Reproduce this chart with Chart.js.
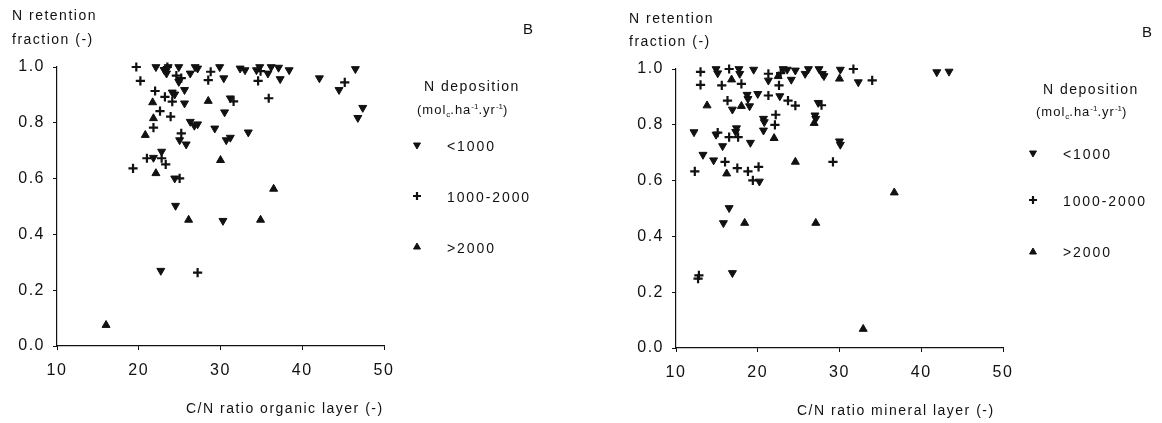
<!DOCTYPE html>
<html>
<head>
<meta charset="utf-8">
<script src="https://cdn.jsdelivr.net/npm/chart.js@4.4.1/dist/chart.umd.min.js"></script>
<style>
  html, body { margin: 0; padding: 0; background: #fff; }
  #wrap { position: relative; width: 1162px; height: 423px; overflow: hidden;
          font-family: "Liberation Sans", Arial, sans-serif; color: #111; letter-spacing: 1.5px; }
  canvas { position: absolute; top: 0; }
  .t { position: absolute; white-space: nowrap; font-size: 14px; line-height: 1; }
  .lg { letter-spacing: 1.9px; }
  .small { font-size: 13px; letter-spacing: 1px; }
  .small sub, .small sup { font-size: 8px; letter-spacing: 0; }
  .small sub { vertical-align: -3px; }
  .small sup { vertical-align: 5px; }
</style>
</head>
<body>
<div id="wrap">
  <canvas id="organicChart" width="581" height="423" style="left:0"></canvas>
  <canvas id="mineralChart" width="581" height="423" style="left:581px"></canvas>

  <!-- left panel text -->
  <div class="t" style="left:12px; top:8px">N retention</div>
  <div class="t" style="left:12px; top:32px">fraction (-)</div>
  <div class="t" style="left:523px; top:21px; font-size:15px">B</div>
  <div class="t" style="left:424px; top:79px">N deposition</div>
  <div class="t small" style="left:417px; top:103px">(mol<sub>c</sub>.ha<sup>-1</sup>.yr<sup>-1</sup>)</div>
  <div class="t lg" style="left:447px; top:139px" id="lab0a"></div>
  <div class="t lg" style="left:447px; top:190px" id="lab1a"></div>
  <div class="t lg" style="left:447px; top:241px" id="lab2a"></div>
  <div class="t" style="left:186px; top:401px">C/N ratio organic layer (-)</div>

  <!-- right panel text -->
  <div class="t" style="left:629px; top:11px">N retention</div>
  <div class="t" style="left:629px; top:34px">fraction (-)</div>
  <div class="t" style="left:1142px; top:24px; font-size:15px">B</div>
  <div class="t" style="left:1043px; top:82px">N deposition</div>
  <div class="t small" style="left:1036px; top:105px">(mol<sub>c</sub>.ha<sup>-1</sup>.yr<sup>-1</sup>)</div>
  <div class="t lg" style="left:1063px; top:147px" id="lab0b"></div>
  <div class="t lg" style="left:1063px; top:194px" id="lab1b"></div>
  <div class="t lg" style="left:1063px; top:245px" id="lab2b"></div>
  <div class="t" style="left:797px; top:403px">C/N ratio mineral layer (-)</div>
</div>

<script>
// ============================
// Data
// ============================
const depositionClasses = ["<1000", "1000-2000", ">2000"];
const xTicks = [10, 20, 30, 40, 50];
const yTicks = [0, 0.2, 0.4, 0.6, 0.8, 1.0];

// C/N ratio organic layer vs N retention fraction
const orgLow = [
    [22.1, 1.0], [23.1, 0.99], [23.6, 1.0], [23.4, 0.977], [24.9, 1.0], [24.9, 0.947],
    [26.3, 0.977], [26.9, 1.0], [27.2, 0.995], [29.9, 1.0], [30.4, 0.96], [32.4, 0.995],
    [33.0, 0.989], [34.4, 0.989], [24.1, 0.909], [24.4, 0.902], [25.6, 0.918], [25.6, 0.87],
    [31.2, 0.888], [30.5, 0.838], [26.3, 0.804], [26.8, 0.79], [27.2, 0.795], [29.3, 0.78],
    [33.4, 0.766], [30.7, 0.738], [31.2, 0.747], [25.0, 0.738], [25.8, 0.723], [21.8, 0.675],
    [22.8, 0.697], [24.4, 0.601], [24.5, 0.503], [34.8, 1.0], [36.2, 1.0], [37.1, 0.998],
    [35.8, 0.977], [37.3, 0.957], [38.4, 0.989], [42.1, 0.96], [46.5, 0.993], [44.5, 0.918],
    [47.4, 0.854], [46.8, 0.818], [30.3, 0.449], [22.7, 0.27]
];
const orgMid = [
    [19.7, 1.0], [23.5, 1.0], [24.6, 0.969], [25.2, 0.96], [28.8, 0.983], [28.5, 0.953],
    [34.6, 0.95], [34.9, 0.985], [20.2, 0.95], [22.0, 0.914], [23.2, 0.893], [24.1, 0.876],
    [31.6, 0.877], [35.9, 0.888], [22.6, 0.842], [23.9, 0.822], [21.8, 0.783], [25.2, 0.762],
    [21.0, 0.673], [22.8, 0.673], [23.3, 0.651], [19.3, 0.637], [25.0, 0.601], [45.2, 0.945],
    [27.2, 0.263]
];
const orgHigh = [
    [21.7, 0.873], [28.5, 0.878], [21.8, 0.816], [20.8, 0.756], [30.0, 0.666], [22.1, 0.619],
    [36.5, 0.563], [26.1, 0.452], [34.9, 0.452], [16.0, 0.075]
];

// C/N ratio mineral layer vs N retention fraction
const minLow = [
    [14.9, 1.0], [15.1, 0.985], [17.7, 1.0], [17.8, 0.983], [19.5, 0.998], [21.3, 0.959],
    [23.1, 1.0], [23.6, 0.998], [24.6, 0.995], [24.1, 0.962], [25.8, 0.983], [26.2, 1.0],
    [27.5, 1.0], [27.9, 0.983], [28.1, 0.975], [30.1, 0.998], [18.7, 0.908], [18.8, 0.893],
    [20.0, 0.911], [22.7, 0.903], [16.9, 0.855], [19.0, 0.867], [27.4, 0.879], [20.7, 0.822],
    [20.8, 0.81], [20.7, 0.78], [27.0, 0.834], [27.1, 0.822], [12.2, 0.774], [14.9, 0.765],
    [17.4, 0.788], [17.3, 0.775], [15.7, 0.724], [19.1, 0.736], [30.0, 0.741], [30.1, 0.729],
    [13.3, 0.693], [14.6, 0.673], [20.2, 0.597], [16.5, 0.502], [32.3, 0.953], [41.9, 0.989],
    [43.4, 0.991], [15.8, 0.448], [16.9, 0.269]
];
const minMid = [
    [13.0, 0.99], [13.0, 0.943], [16.5, 1.0], [18.0, 0.947], [15.6, 0.941], [21.3, 0.983],
    [22.8, 0.985], [22.6, 0.941], [21.3, 0.905], [23.7, 0.887], [24.6, 0.869], [16.3, 0.887],
    [22.2, 0.836], [22.1, 0.80], [15.1, 0.772], [16.5, 0.756], [17.6, 0.756], [16.0, 0.667],
    [12.3, 0.633], [17.5, 0.645], [18.8, 0.633], [20.1, 0.649], [19.4, 0.601], [29.2, 0.667],
    [31.7, 1.0], [34.0, 0.959], [27.8, 0.87], [12.7, 0.249], [12.8, 0.26]
];
const minHigh = [
    [16.8, 0.962], [22.5, 0.974], [30.0, 0.965], [13.8, 0.869], [18.0, 0.867], [22.0, 0.752],
    [26.9, 0.806], [16.2, 0.625], [24.6, 0.667], [36.7, 0.557], [18.4, 0.448], [27.1, 0.448],
    [32.9, 0.068]
];

// ============================
// Styling helpers
// ============================
const INK = "#111";
const FONT = "'Liberation Sans', Arial, sans-serif";

["a", "b"].forEach(s => {
    depositionClasses.forEach((c, i) => {
        document.getElementById("lab" + i + s).textContent = c;
    });
});

function toPoints(arr) {
    return arr.map(([x, y]) => ({ x, y }));
}

// draws the little legend markers next to the HTML labels
const legendMarks = {
    id: "legendMarks",
    beforeDraw(chart) {
        chart.ctx.letterSpacing = "1.5px";
    },
    afterDraw(chart, args, opts) {
        const ctx = chart.ctx;
        chart.data.datasets.forEach((ds, i) => {
            ctx.save();
            ctx.fillStyle = ds.backgroundColor;
            ctx.strokeStyle = ds.borderColor;
            ctx.lineWidth = ds.borderWidth;
            Chart.helpers.drawPoint(ctx, {
                pointStyle: ds.pointStyle,
                rotation: ds.rotation,
                radius: 4,
                borderWidth: ds.borderWidth
            }, opts.x, opts.ys[i]);
            ctx.restore();
        });
    }
};

function makePanel(canvasId, low, mid, high, layout) {
    const ctx = document.getElementById(canvasId).getContext("2d");
    const markStyles = [
        { pointStyle: "triangle", rotation: 180, borderWidth: 1 },
        { pointStyle: "cross", rotation: 0, borderWidth: 2.2 },
        { pointStyle: "triangle", rotation: 0, borderWidth: 1 }
    ];
    const datasets = [low, mid, high].map((arr, i) => ({
        label: depositionClasses[i],
        data: toPoints(arr),
        pointStyle: markStyles[i].pointStyle,
        rotation: markStyles[i].rotation,
        pointRadius: 4.6,
        borderWidth: markStyles[i].borderWidth,
        backgroundColor: INK,
        borderColor: INK,
        showLine: false,
        clip: false
    }));

    return new Chart(ctx, {
        type: "scatter",
        data: { datasets },
        options: {
            responsive: false,
            animation: false,
            events: [],
            layout: {
                padding: { left: 0, right: layout.padRight, top: layout.padTop, bottom: layout.padBottom }
            },
            plugins: {
                legend: { display: false },
                tooltip: { enabled: false },
                legendMarks: { x: layout.legendX, ys: layout.legendYs }
            },
            scales: {
                x: {
                    type: "linear",
                    min: 10,
                    max: 50,
                    afterBuildTicks: axis => { axis.ticks = xTicks.map(v => ({ value: v })); },
                    afterFit: axis => { axis.height = 40; },
                    grid: { drawOnChartArea: false, drawTicks: true, tickLength: 4, color: INK },
                    border: { display: true, color: INK, width: 1.2 },
                    ticks: { color: INK, padding: 11, maxRotation: 0, font: { family: FONT, size: 16 } }
                },
                y: {
                    type: "linear",
                    min: 0,
                    max: 1,
                    afterBuildTicks: axis => { axis.ticks = yTicks.map(v => ({ value: v })); },
                    afterFit: axis => { axis.width = layout.yWidth; },
                    grid: { drawOnChartArea: false, drawTicks: true, tickLength: 4, color: INK },
                    border: { display: true, color: INK, width: 1.2 },
                    ticks: {
                        color: INK,
                        padding: 8,
                        font: { family: FONT, size: 16 },
                        callback: v => v.toFixed(1)
                    }
                }
            }
        },
        plugins: [legendMarks]
    });
}

// ============================
// Panels
// ============================
makePanel("organicChart", orgLow, orgMid, orgHigh, {
    yWidth: 57, padRight: 197, padTop: 67, padBottom: 37,
    legendX: 417, legendYs: [145, 196, 247]
});

makePanel("mineralChart", minLow, minMid, minHigh, {
    yWidth: 95, padRight: 159, padTop: 69, padBottom: 35,
    legendX: 452, legendYs: [153, 200, 252]
});
</script>
</body>
</html>
